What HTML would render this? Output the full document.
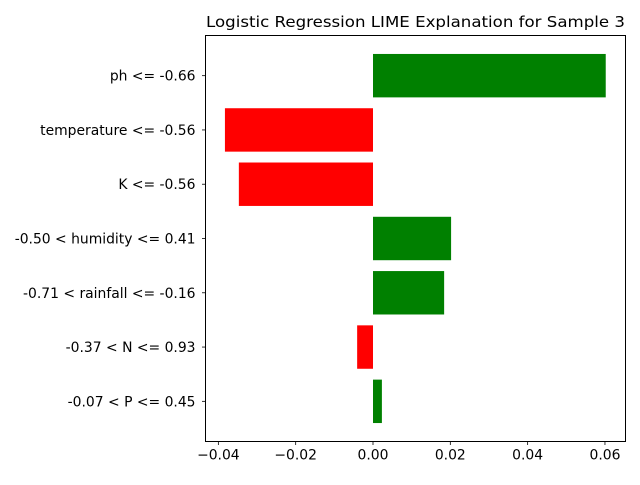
<!DOCTYPE html>
<html><head><meta charset="utf-8"><style>
html,body{margin:0;padding:0;background:#fff;}
svg text{font-family:"DejaVu Sans","Liberation Sans",sans-serif;}
</style></head><body>
<svg id="chart" width="640" height="480" xmlns="http://www.w3.org/2000/svg">
<text x="415.5" y="27" font-size="15.5" text-anchor="middle" textLength="419" lengthAdjust="spacingAndGlyphs">Logistic Regression LIME Explanation for Sample 3</text>
<g id="bars"></g>
<g id="axes"></g>
</svg>
<script>
const categories = ["ph <= -0.66","temperature <= -0.56","K <= -0.56","-0.50 < humidity <= 0.41","-0.71 < rainfall <= -0.16","-0.37 < N <= 0.93","-0.07 < P <= 0.45"];
const weights = [0.0602,-0.0383,-0.0347,0.0202,0.0184,-0.0041,0.0023];
const xTicks = [-0.04,-0.02,0.00,0.02,0.04,0.06];
const xTickLabels = ["−0.04","−0.02","0.00","0.02","0.04","0.06"];

const L=205.5,R=625.5,T=35.5,B=441.5;
const ns="http://www.w3.org/2000/svg";
const x = v => 373 + v*3866;
const n = categories.length;
const span = (n-1)+0.8;
const yMin=-0.4-0.05*span, yMax=n-1+0.4+0.05*span;
const sy = (B-T)/(yMax-yMin);
const y = v => T + (yMax - v)*sy;
const bars=document.getElementById('bars'), axes=document.getElementById('axes');
function mk(tag,attrs,parent){const e=document.createElementNS(ns,tag);for(const k in attrs)e.setAttribute(k,attrs[k]);parent.appendChild(e);return e;}
categories.forEach((c,i)=>{
  const pos=n-1-i, w=weights[i];
  const r=mk('rect',{x:Math.min(x(0),x(w)),y:y(pos+0.4),width:Math.abs(x(w)-x(0)),height:0.8*sy,fill:w>=0?'#008000':'#ff0000'},bars);
  
  
  mk('line',{x1:L,x2:L-3.5,y1:y(pos),y2:y(pos),stroke:'#000','stroke-width':0.8},axes);
  const t=mk('text',{x:L-10,y:y(pos)+5,'font-size':13.9,'text-anchor':'end'},axes);
  t.textContent=c;
  
  
});
xTicks.forEach((v,i)=>{
  mk('line',{x1:x(v),x2:x(v),y1:B,y2:B+3.5,stroke:'#000','stroke-width':0.8},axes);
  const t=mk('text',{x:x(v),y:B+18,'font-size':13.9,'text-anchor':'middle'},axes);
  t.textContent=xTickLabels[i];
  
  
});
const f=mk('rect',{x:L,y:T,width:R-L,height:B-T,fill:'none',stroke:'#000','stroke-width':1},axes);


</script>
</body></html>
